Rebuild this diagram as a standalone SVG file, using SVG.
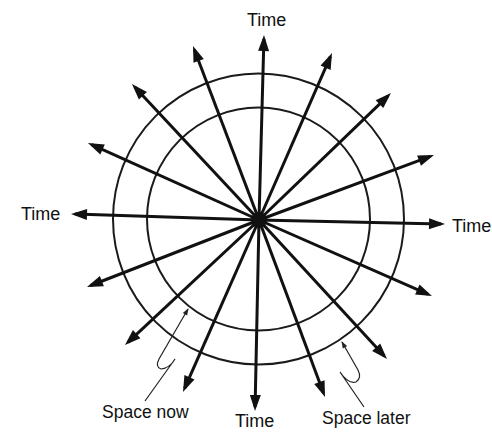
<svg xmlns="http://www.w3.org/2000/svg" width="492" height="432" viewBox="0 0 492 432">
<style>
.ring{fill:none;stroke:#1a1a1a;stroke-width:2}
.ray{stroke:#111;stroke-width:3;fill:none}
.lead{stroke:#222;stroke-width:1.2;fill:none}
text{font-family:"Liberation Sans",Arial,sans-serif;fill:#111}
.t{font-size:18px}
.s{font-size:17.5px}
</style>
<defs>
<marker id="ah" markerUnits="userSpaceOnUse" markerWidth="20" markerHeight="14" refX="12" refY="0" viewBox="0 -7 18 14" orient="auto">
<path d="M0,-5.5 L16,0 L0,5.5 Z" fill="#111"/>
</marker>
<marker id="sh" markerUnits="userSpaceOnUse" markerWidth="10" markerHeight="8" refX="6" refY="0" viewBox="0 -4 8 8" orient="auto">
<path d="M0,-2.5 L7,0 L0,2.5 Z" fill="#222"/>
</marker>
</defs>
<g id="space-now-circle"><circle class="ring" cx="258.5" cy="219" r="111.5"/></g>
<g id="space-later-circle"><circle class="ring" cx="258.5" cy="219" r="145.5"/></g>
<g id="connectors">
<line class="ray" x1="259" y1="220" x2="263.9" y2="39" marker-end="url(#ah)"/>
<line class="ray" x1="259" y1="220" x2="330.4" y2="56.7" marker-end="url(#ah)"/>
<line class="ray" x1="259" y1="220" x2="388.1" y2="95.8" marker-end="url(#ah)"/>
<line class="ray" x1="259" y1="220" x2="430.3" y2="156.4" marker-end="url(#ah)"/>
<line class="ray" x1="259" y1="220" x2="441" y2="223.9" marker-end="url(#ah)"/>
<line class="ray" x1="259" y1="220" x2="428.3" y2="294.4" marker-end="url(#ah)"/>
<line class="ray" x1="259" y1="220" x2="384.3" y2="356.1" marker-end="url(#ah)"/>
<line class="ray" x1="259" y1="220" x2="323.6" y2="393.3" marker-end="url(#ah)"/>
<line class="ray" x1="259" y1="220" x2="255.1" y2="407" marker-end="url(#ah)"/>
<line class="ray" x1="259" y1="220" x2="184.6" y2="388.3" marker-end="url(#ah)"/>
<line class="ray" x1="259" y1="220" x2="127.9" y2="342.3" marker-end="url(#ah)"/>
<line class="ray" x1="259" y1="220" x2="90.7" y2="285.5" marker-end="url(#ah)"/>
<line class="ray" x1="259" y1="220" x2="75" y2="214.1" marker-end="url(#ah)"/>
<line class="ray" x1="259" y1="220" x2="91.6" y2="144.6" marker-end="url(#ah)"/>
<line class="ray" x1="259" y1="220" x2="134.7" y2="86.9" marker-end="url(#ah)"/>
<line class="ray" x1="259" y1="220" x2="194.4" y2="49.7" marker-end="url(#ah)"/>
<path class="lead" d="M145,401 L175,359 Q170,368 161,369 Q155,367 159,359 L188,309" marker-end="url(#sh)"/>
<path class="lead" d="M364,407 L340,372 Q348,384 356,382 Q362,378 358,370 L342,342" marker-end="url(#sh)"/>
</g>
<g id="origin"><circle cx="259" cy="220" r="8" fill="#111"/></g>
<g id="labels">
<text class="t" x="247" y="26">Time</text>
<text class="t" x="21" y="220">Time</text>
<text class="t" x="452" y="232">Time</text>
<text class="t" x="235" y="427">Time</text>
<text class="s" x="102" y="418">Space now</text>
<text class="s" x="322" y="424">Space later</text>
</g>
</svg>
